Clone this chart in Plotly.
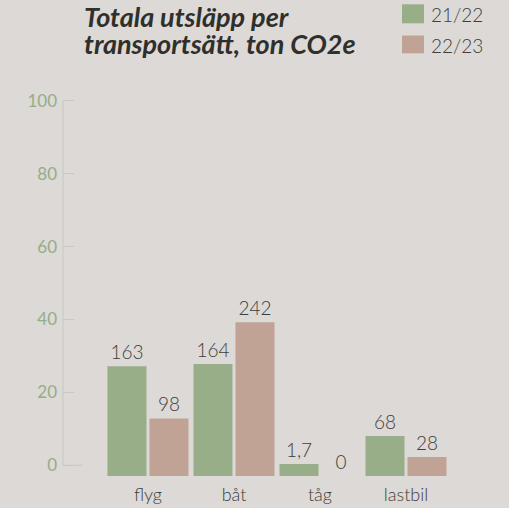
import plotly.graph_objects as go

categories = ["flyg", "båt", "tåg", "lastbil"]
series_names = ["21/22", "22/23"]
# bar heights (in y-axis units)
heights_2122 = [30.1, 30.7, 3.3, 11.0]
heights_2223 = [15.8, 42.2, 0.0, 5.2]
labels_2122 = ["163", "164", "1,7", "68"]
labels_2223 = ["98", "242", "0", "28"]
y_ticks = [0, 20, 40, 60, 80, 100]
title_lines = ["Totala utsläpp per", "transportsätt, ton CO2e"]

BASE = -2.95
BG = "#dcd9d6"
GREEN = "#97ae88"
BROWN = "#c0a395"
TEXT = "#3d3d3a"
TICKGREEN = "#93ae87"
AXIS = "#c6c9c2"
FONT = "Lato"

W, H = 509, 508
ML, MR, MT, MB = 63, 60, 99, 32
PW, PH = W - ML - MR, H - MT - MB


def px_x(px):
    return (px - ML) / PW


def px_y(py):
    return (H - MB - py) / PH


fig = go.Figure()
for name, h, lab, col in [
    (series_names[0], heights_2122, labels_2122, GREEN),
    (series_names[1], heights_2223, labels_2223, BROWN),
]:
    fig.add_trace(go.Bar(
        x=categories, y=h, base=BASE, name=name, marker_color=col,
        marker_line_width=0, text=lab, textposition="outside",
        textfont=dict(family=FONT, size=19, color=TEXT, weight=300),
        cliponaxis=False, showlegend=False,
    ))

shapes = [
    dict(type="line", xref="paper", yref="y", x0=0, x1=0, y0=0, y1=100,
         line=dict(color=AXIS, width=1)),
    dict(type="line", xref="paper", yref="y", x0=0, x1=px_x(82.7), y0=0, y1=0,
         line=dict(color=AXIS, width=1)),
    dict(type="rect", xref="paper", yref="paper", x0=px_x(402), x1=px_x(424),
         y0=px_y(23.3), y1=px_y(4.3), fillcolor=GREEN, line_width=0),
    dict(type="rect", xref="paper", yref="paper", x0=px_x(402), x1=px_x(424),
         y0=px_y(53.3), y1=px_y(35.5), fillcolor=BROWN, line_width=0),
]

annotations = []
for i, line in enumerate(title_lines):
    annotations.append(dict(
        text=f"<b><i>{line}</i></b>", xref="paper", yref="paper",
        x=px_x(82), y=px_y(16.5 + 27.3 * i), xanchor="left", yanchor="middle",
        align="left", showarrow=False,
        font=dict(family=FONT, size=27, color="#2f2f2b")))
for i, name in enumerate(series_names):
    annotations.append(dict(
        text=name, xref="paper", yref="paper", x=px_x(429),
        y=px_y(14 + 31 * i), xanchor="left", yanchor="middle", showarrow=False,
        font=dict(family=FONT, size=19, color=TEXT, weight=300)))

fig.update_layout(
    width=W, height=H, margin=dict(l=ML, r=MR, t=MT, b=MB, autoexpand=False),
    paper_bgcolor=BG, plot_bgcolor=BG,
    barmode="group", bargap=0.0233, bargroupgap=0.0714,
    shapes=shapes, annotations=annotations,
    font=dict(family=FONT),
    xaxis=dict(range=[-0.988, 3.5], showline=False, showgrid=False,
               zeroline=False, ticks="", ticklabelstandoff=6, automargin=False,
               tickfont=dict(family=FONT, size=18, color=TEXT, weight=300)),
    yaxis=dict(range=[BASE, 100.5], tickvals=y_ticks, showline=False,
               showgrid=False, zeroline=False, ticks="inside", ticklen=11,
               tickcolor=AXIS, tickwidth=1, ticklabelstandoff=5, automargin=False,
               tickfont=dict(family=FONT, size=17, color=TICKGREEN)),
)

fig.write_html(
    "out.html",
    config={"displayModeBar": False},
    post_script="document.body.style.margin='0';document.body.style.overflow='hidden';",
)
